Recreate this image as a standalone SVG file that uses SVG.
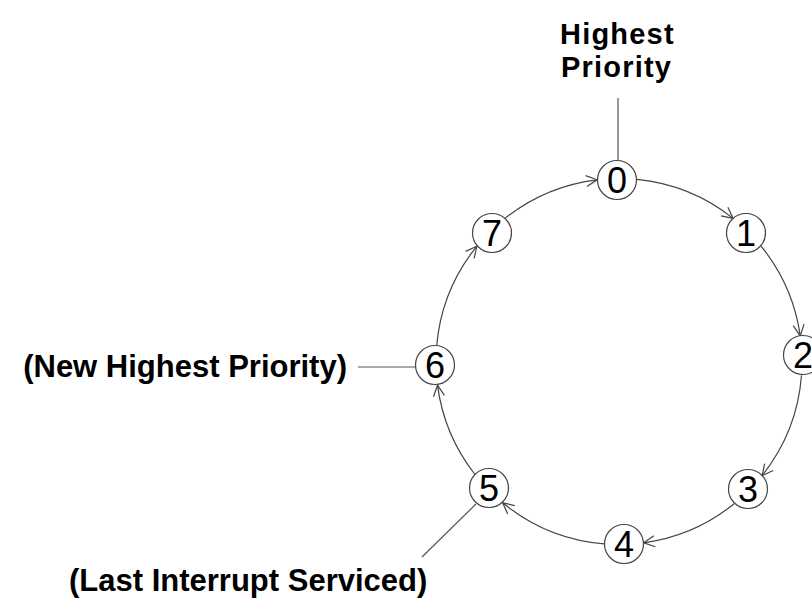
<svg xmlns="http://www.w3.org/2000/svg" width="812" height="602" viewBox="0 0 812 602">
  <style>
    .ring { fill: none; stroke: #444; stroke-width: 1.2; }
    .lead { fill: none; stroke: #555; stroke-width: 1.2; }
    .node circle { fill: #fff; stroke: #444; stroke-width: 1.2; }
    .node text { font-family: "Liberation Sans", Arial, sans-serif; font-size: 36px; text-anchor: middle; fill: #000; }
    .label { font-family: "Liberation Sans", Arial, sans-serif; font-weight: bold; font-size: 31px; fill: #000; }
    .title { font-family: "Liberation Sans", Arial, sans-serif; font-weight: bold; font-size: 29px; letter-spacing: 1.2px; fill: #000; }
  </style>
  <defs>
    <marker id="arrow" markerUnits="userSpaceOnUse" markerWidth="14" markerHeight="14" viewBox="-12 -7 14 14" refX="0" refY="0" orient="auto">
      <path d="M-11,-5.5 L0,0 L-11,5.5" fill="none" stroke="#444" stroke-width="1.2"/>
    </marker>
  </defs>

  <!-- ring arcs, clockwise, radius 183 about (619,361.5) -->
  <g id="connectors">
    <path class="ring" marker-end="url(#arrow)" d="M636.8,179.4 A183,183 0 0 1 733.1,218.4"/>
    <path class="ring" marker-end="url(#arrow)" d="M761.2,246.3 A183,183 0 0 1 800.2,335.8"/>
    <path class="ring" marker-end="url(#arrow)" d="M801.5,375.3 A183,183 0 0 1 762.1,475.6"/>
    <path class="ring" marker-end="url(#arrow)" d="M734.2,503.7 A183,183 0 0 1 643.7,542.8"/>
    <path class="ring" marker-end="url(#arrow)" d="M604.2,543.9 A183,183 0 0 1 502.7,502.8"/>
    <path class="ring" marker-end="url(#arrow)" d="M475.0,474.5 A183,183 0 0 1 437.5,385.2"/>
    <path class="ring" marker-end="url(#arrow)" d="M436.7,345.7 A183,183 0 0 1 476.8,246.3"/>
    <path class="ring" marker-end="url(#arrow)" d="M504.9,218.4 A183,183 0 0 1 597.2,179.8"/>
    <!-- leader lines to the labels -->
    <line class="lead" x1="618" y1="98" x2="618" y2="160"/>
    <line class="lead" x1="358" y1="367" x2="415" y2="367"/>
    <line class="lead" x1="476" y1="504" x2="422" y2="557"/>
  </g>

  <g id="n0" class="node"><circle cx="617" cy="180" r="19.5"/><text x="617" y="193">0</text></g>
  <g id="n1" class="node"><circle cx="746" cy="233" r="19.5"/><text x="746" y="246">1</text></g>
  <g id="n2" class="node"><circle cx="803" cy="355" r="19.5"/><text x="803" y="368">2</text></g>
  <g id="n3" class="node"><circle cx="748" cy="489" r="19.5"/><text x="748" y="502">3</text></g>
  <g id="n4" class="node"><circle cx="624" cy="544" r="19.5"/><text x="624" y="557">4</text></g>
  <g id="n5" class="node"><circle cx="489" cy="488" r="19.5"/><text x="489" y="501">5</text></g>
  <g id="n6" class="node"><circle cx="435" cy="365" r="19.5"/><text x="435" y="378">6</text></g>
  <g id="n7" class="node"><circle cx="492" cy="233" r="19.5"/><text x="492" y="246">7</text></g>

  <g id="labels">
    <text class="title" x="560" y="44">Highest</text>
    <text class="title" x="561" y="77">Priority</text>
    <text class="label" x="347" y="377" text-anchor="end">(New Highest Priority)</text>
    <text class="label" x="69" y="591">(Last Interrupt Serviced)</text>
  </g>
</svg>
